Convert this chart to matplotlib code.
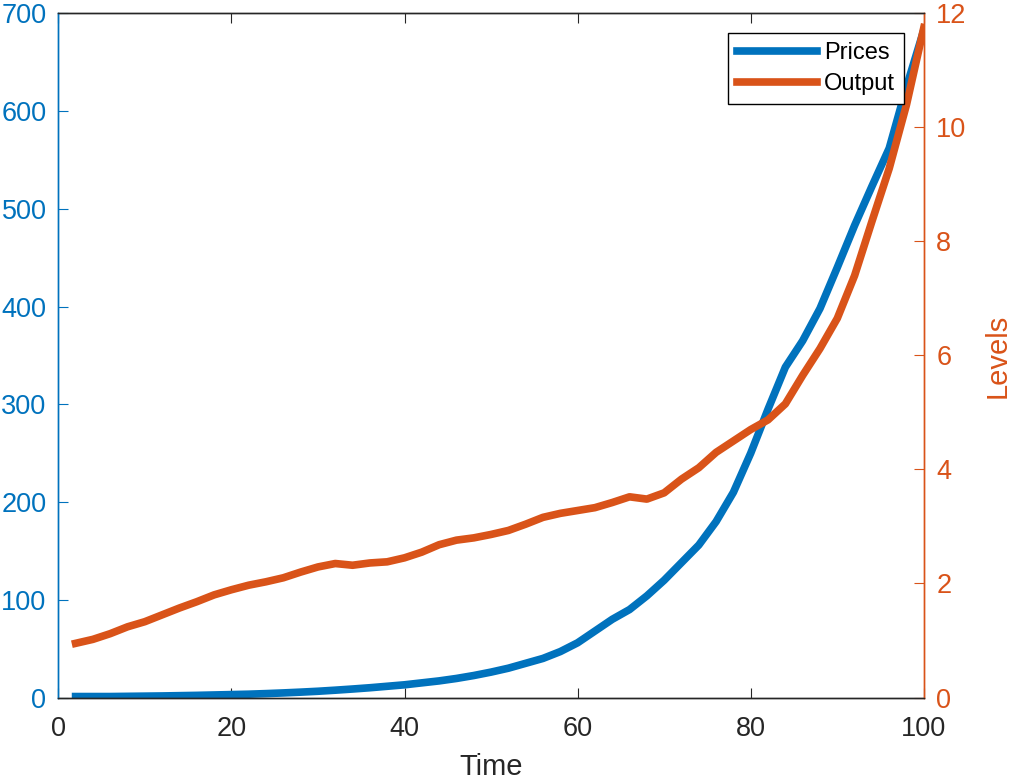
import matplotlib.pyplot as plt
import numpy as np

plt.rcParams['font.family'] = ['Liberation Sans', 'DejaVu Sans']

# data
time = list(range(2, 101, 2))
prices = [1, 1, 1, 1.2, 1.4, 1.6, 1.9, 2.2, 2.6, 3,
          3.4, 4, 4.7, 5.5, 6.4, 7.5, 8.7, 10, 11.5, 13,
          15, 17, 19.5, 22.5, 26, 30, 35, 40, 47, 56,
          68, 80, 90, 104, 120, 138, 156, 180, 210, 250,
          295, 338, 365, 398, 440, 483, 523, 562, 625, 683]
output = [0.95, 1.02, 1.12, 1.24, 1.33, 1.45, 1.57, 1.68, 1.80, 1.89,
          1.97, 2.03, 2.10, 2.20, 2.29, 2.35, 2.32, 2.36, 2.38, 2.45,
          2.55, 2.68, 2.76, 2.80, 2.86, 2.93, 3.04, 3.16, 3.23, 3.28,
          3.33, 3.42, 3.52, 3.48, 3.59, 3.83, 4.03, 4.30, 4.50, 4.70,
          4.87, 5.15, 5.65, 6.12, 6.65, 7.40, 8.35, 9.28, 10.40, 11.75]

azul = '#0072BD'
naranja = '#D95319'
gris = '#262626'

fig = plt.figure(figsize=(10.1, 7.79), dpi=100)
ax = fig.add_axes([0.0577, 0.1046, 0.857, 0.8783])
ax2 = ax.twinx()

l1, = ax.plot(time, prices, color=azul, lw=5.5, label='Prices')
l2, = ax2.plot(time, output, color=naranja, lw=5.5, label='Output')

ax.set_xlim(0, 100)
ax.set_ylim(0, 700)
ax2.set_ylim(0, 12)
ax.set_xticks(np.arange(0, 101, 20))
ax.set_yticks(np.arange(0, 701, 100))
ax2.set_yticks(np.arange(0, 13, 2))

ax.set_xlabel('Time', fontsize=21, color=gris, labelpad=8)
ax2.set_ylabel('Levels', fontsize=21, color=naranja, labelpad=12)

ax.tick_params(axis='x', direction='in', length=7, labelsize=19.5, colors=gris, top=True, pad=13)
ax.tick_params(axis='y', direction='in', length=7, labelsize=19.5, colors=azul, pad=8.5)
ax2.tick_params(axis='y', direction='in', length=7, labelsize=19.5, colors=naranja, pad=9)

for a in (ax, ax2):
    a.spines['top'].set_color(gris)
    a.spines['bottom'].set_color(gris)
    a.spines['left'].set_color(azul)
    a.spines['right'].set_color(naranja)
    for s in a.spines.values():
        s.set_linewidth(1)

leg = ax2.legend(handles=[l1, l2], loc='upper right', bbox_to_anchor=(0.9769, 0.9708),
                 fontsize=17, frameon=True, fancybox=False, framealpha=1,
                 edgecolor='black', handlelength=3.4, borderpad=0.38,
                 labelspacing=0.36, handletextpad=0.3, borderaxespad=0)
leg.get_frame().set_linewidth(1)

fig.savefig('out.png', dpi=100)
